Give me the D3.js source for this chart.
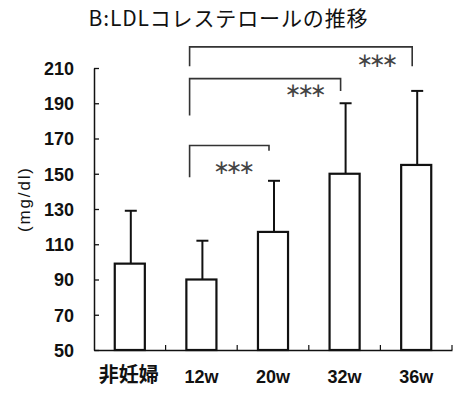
<!DOCTYPE html>
<html><head><meta charset="utf-8">
<script src="https://cdn.jsdelivr.net/npm/d3@7"></script>
<style>body{margin:0;background:#fff}</style>
</head><body>
<svg id="c" width="460" height="405"></svg>
<script>
const categories = ["非妊婦", "12w", "20w", "32w", "36w"];
const means = [99, 90, 117, 150, 155];
const sdUpper = [129, 112, 146, 190, 197];
const yTicks = [50, 70, 90, 110, 130, 150, 170, 190, 210];
// significance brackets: from/to category, bar level, left/right leg ends, label level (mg/dl)
const sigFrom = ["12w", "12w", "12w"];
const sigTo = ["20w", "32w", "36w"];
const sigLevel = [166, 204, 222];
const sigLeftEnd = [148, 183, 211];
const sigRightEnd = [163, 197, 211];
const sigLabelAt = [154, 197.5, 214.5];
const sigLabel = ["∗∗∗", "∗∗∗", "∗∗∗"];

const svg = d3.select("#c");
const x = d3.scaleBand().domain(categories).range([94, 452]).padding(0);
const y = d3.scaleLinear().domain([50, 210]).range([350, 68]);
const bw = x.bandwidth() * 0.42;
const cx = c => x(c) + x.bandwidth() / 2;

// title
svg.append("text").attr("x", 228).attr("y", 26).attr("text-anchor", "middle")
  .attr("font-family", "Noto Sans CJK JP").attr("font-size", 21).attr("fill", "#111")
  .attr("textLength", 279).attr("lengthAdjust", "spacing")
  .text("B:LDLコレステロールの推移");

// y axis
const yAxis = d3.axisLeft(y).tickValues(yTicks).tickSizeInner(-5).tickSizeOuter(0).tickPadding(20);
const gy = svg.append("g").attr("transform", "translate(94,0)").call(yAxis);
gy.select(".domain").attr("stroke", "#111").attr("stroke-width", 1.5);
gy.selectAll(".tick line").attr("stroke", "#111").attr("stroke-width", 1.3);
gy.selectAll(".tick text").attr("font-family", "Liberation Sans, Arial").attr("font-weight", "bold")
  .attr("font-size", 18).attr("fill", "#111").attr("dy", "0.36em");

// x axis
const gx = svg.append("g").attr("transform", "translate(0,350)")
  .call(d3.axisBottom(x).tickSize(0).tickPadding(20));
gx.select(".domain").attr("stroke", "#111").attr("stroke-width", 1.5);
gx.selectAll(".tick text").attr("font-family", "Liberation Sans, Noto Sans CJK JP").attr("font-weight", "bold")
  .attr("font-size", 18).attr("fill", "#111").attr("dy", "0.7em");
gx.selectAll(".tick text").filter(d => d === "非妊婦").attr("font-family", "Noto Sans CJK JP").attr("font-size", 20).attr("dy", "0.62em").attr("dx", -1);
// band boundary ticks (pointing up)
svg.append("g").selectAll("line").data(categories).join("line")
  .attr("x1", d => x(d) + x.bandwidth()).attr("x2", d => x(d) + x.bandwidth())
  .attr("y1", 350).attr("y2", 345).attr("stroke", "#111").attr("stroke-width", 1.2);

// y label
svg.append("text").attr("transform", "translate(30,200) rotate(-90)").attr("text-anchor", "middle")
  .attr("font-family", "Liberation Sans, Arial").attr("font-size", 17).attr("fill", "#111")
  .attr("textLength", 64).attr("lengthAdjust", "spacing")
  .text("(mg/dl)");

// error bars
const eb = svg.append("g");
categories.forEach((c, i) => {
  eb.append("line").attr("x1", cx(c) + 1).attr("x2", cx(c) + 1).attr("y1", y(means[i])).attr("y2", y(sdUpper[i]))
    .attr("stroke", "#111").attr("stroke-width", 2);
  eb.append("line").attr("x1", cx(c) + 1 - 6).attr("x2", cx(c) + 1 + 6).attr("y1", y(sdUpper[i])).attr("y2", y(sdUpper[i]))
    .attr("stroke", "#111").attr("stroke-width", 2);
});

// bars
svg.append("g").selectAll("rect").data(categories).join("rect")
  .attr("x", d => cx(d) - bw / 2).attr("width", bw)
  .attr("y", (d, i) => y(means[i])).attr("height", (d, i) => y(50) - y(means[i]))
  .attr("fill", "#fff").attr("stroke", "#111").attr("stroke-width", 2.2);

// significance brackets
const sg = svg.append("g");
sigFrom.forEach((f, i) => {
  const x1 = x(f) + 24, x2 = cx(sigTo[i]) - 4;
  sg.append("path")
    .attr("d", `M${x1},${y(sigLeftEnd[i])}V${y(sigLevel[i])}H${x2}V${y(sigRightEnd[i])}`)
    .attr("fill", "none").attr("stroke", "#333").attr("stroke-width", 1.6);
  sg.append("text").attr("x", x(sigTo[i]) - 3).attr("y", y(sigLabelAt[i])).attr("dy", "0.36em")
    .attr("text-anchor", "middle")
    .attr("font-family", "DejaVu Sans").attr("font-size", 20).attr("fill", "#444")
    .attr("textLength", 42).attr("lengthAdjust", "spacing")
    .text(sigLabel[i]);
});
</script>
</body></html>
